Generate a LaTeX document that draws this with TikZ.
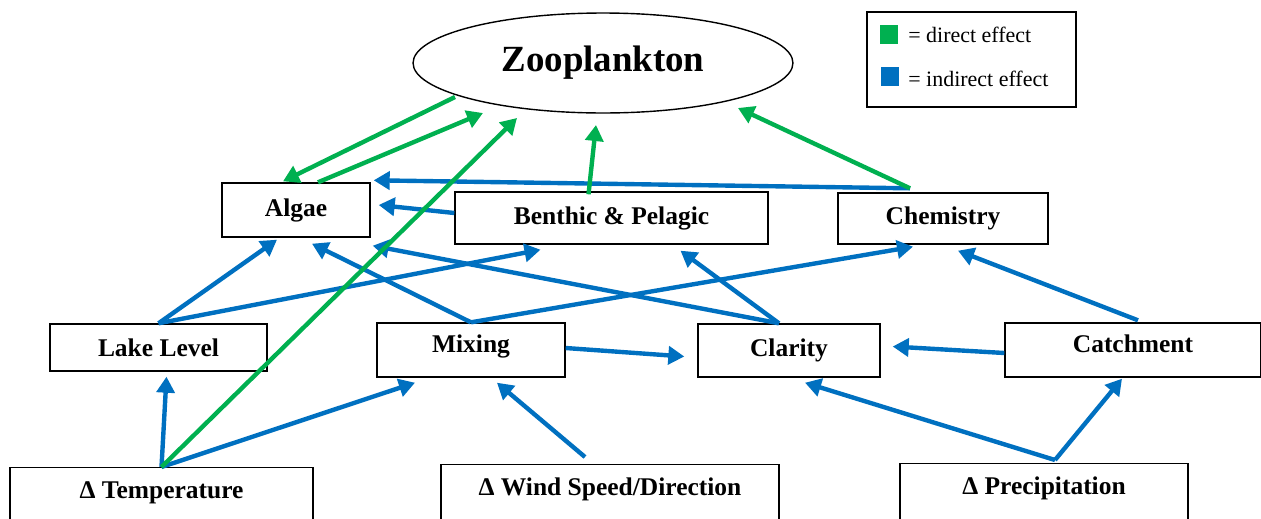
\documentclass[tikz,border=0pt]{standalone}
\usepackage{fontspec}
\setmainfont{Liberation Serif}
\usetikzlibrary{arrows.meta,shapes.geometric}

\definecolor{dgreen}{HTML}{00B050}
\definecolor{iblue}{HTML}{0070C0}

\begin{document}
\begin{tikzpicture}
  [x=0.02cm,y=-0.02cm,
   box/.style={rectangle,draw,line width=0.8pt,inner sep=0pt,font=\bfseries\fontsize{14.5}{17}\selectfont},
   high box/.style={box,text height=0.58cm,text depth=0.5cm},
   base box/.style={box,anchor=north,text height=0.62cm,text depth=1.2cm},
   key/.style={rectangle,inner sep=0pt,minimum width=0.37cm,minimum height=0.38cm},
   key text/.style={anchor=base west,inner sep=0pt,font=\fontsize{12.5}{15}\selectfont},
   direct/.style={draw=dgreen,line width=2.5pt,-{Triangle[length=3.2mm,width=3.6mm]}},
   indirect/.style={direct,draw=iblue}]

  \useasboundingbox (0,0) rectangle (1261,518);
  \clip (0,0) rectangle (1261,518);

  % Response
  \node [ellipse,draw,line width=0.8pt,minimum width=7.6cm,minimum height=2cm,
         font=\bfseries\fontsize{21}{25}\selectfont] (zoo) at (603,63) {Zooplankton};

  % Legend
  \node [draw,line width=0.8pt,minimum width=4.18cm,minimum height=1.9cm] (legend) at (971.5,59.5) {};
  \node [key,fill=dgreen] (gkey) at (889,34.5) {};
  \node [key,fill=iblue]  (bkey) at (890,76.5) {};
  \node [key text] (gtext) at (908,42) {= direct effect};
  \node [key text] (btext) at (908,86) {= indirect effect};

  % Lake
  \node [box,minimum width=2.96cm,minimum height=1.08cm] (algae)   at (296,210)   {Algae};
  \node [box,minimum width=6.26cm,minimum height=1.04cm] (benthic) at (611.5,218) {Benthic \& Pelagic};
  \node [box,minimum width=4.2cm,minimum height=1.02cm]  (chem)    at (943,218.5) {Chemistry};
  \node [box,minimum width=4.34cm,minimum height=0.94cm] (lake)    at (158.5,347.5) {Lake Level};
  \node [high box,minimum width=3.76cm] (mixing)  at (471,350)   {Mixing};
  \node [box,minimum width=3.64cm,minimum height=1.06cm] (clarity) at (789,350.5) {Clarity};
  \node [high box,minimum width=5.12cm] (catch)   at (1133,350)  {Catchment};

  % Drivers
  \node [base box,minimum width=6.06cm] (temp)   at (161.5,467) {Δ Temperature};
  \node [base box,minimum width=6.76cm] (wind)   at (610,464)   {Δ Wind Speed/Direction};
  \node [base box,minimum width=5.76cm] (precip) at (1044,463)  {Δ Precipitation};

  % indirect effects
  \draw [indirect] ([shift={(-33,-4)}]chem.north) -- ([shift={(3,-2)}]algae.north east);
  \draw [indirect] ([shift={(0,-5)}]benthic.west) -- ([shift={(8,-5)}]algae.east);
  \draw [indirect] (lake.north) -- ([shift={(-19,2)}]algae.south);
  \draw [indirect] (lake.north) -- ([shift={(-71,5)}]benthic.south);
  \draw [indirect] (mixing.north) -- ([shift={(16,6)}]algae.south);
  \draw [indirect] (mixing.north) -- ([shift={(-30,2)}]chem.south);
  \draw [indirect] ([shift={(-10,0)}]clarity.north) -- ([shift={(2,8)}]algae.south east);
  \draw [indirect] ([shift={(-10,0)}]clarity.north) -- ([shift={(69,6)}]benthic.south);
  \draw [indirect] ([shift={(5,-2)}]catch.north) -- ([shift={(15,6)}]chem.south);
  \draw [indirect] ([shift={(0,-2)}]mixing.east) -- ([shift={(-13,6)}]clarity.west);
  \draw [indirect] ([shift={(0,3)}]catch.west) -- ([shift={(12,-4)}]clarity.east);
  \draw [indirect] (temp.north) -- ([shift={(8,5)}]lake.south);
  \draw [indirect] (temp.north) -- ([shift={(-56,5)}]mixing.south);
  \draw [indirect] ([shift={(-25,-7)}]wind.north) -- ([shift={(26,5)}]mixing.south);
  \draw [indirect] ([shift={(11,-3)}]precip.north) -- ([shift={(16,5)}]clarity.south);
  \draw [indirect] ([shift={(11,-3)}]precip.north) -- ([shift={(-11,1)}]catch.south);

  % direct effects
  \draw [direct] ([shift={(-148,34)}]zoo.center) -- ([shift={(-13,-1)}]algae.north);
  \draw [direct] ([shift={(22,0)}]algae.north) -- ([shift={(-120,50)}]zoo.center);
  \draw [direct] (temp.north) -- ([shift={(-86,55)}]zoo.center);
  \draw [direct] ([shift={(-23,3)}]benthic.north) -- ([shift={(-7,62)}]zoo.center);
  \draw [direct] ([shift={(-33,-4)}]chem.north) -- ([shift={(135,45)}]zoo.center);

\end{tikzpicture}
\end{document}
